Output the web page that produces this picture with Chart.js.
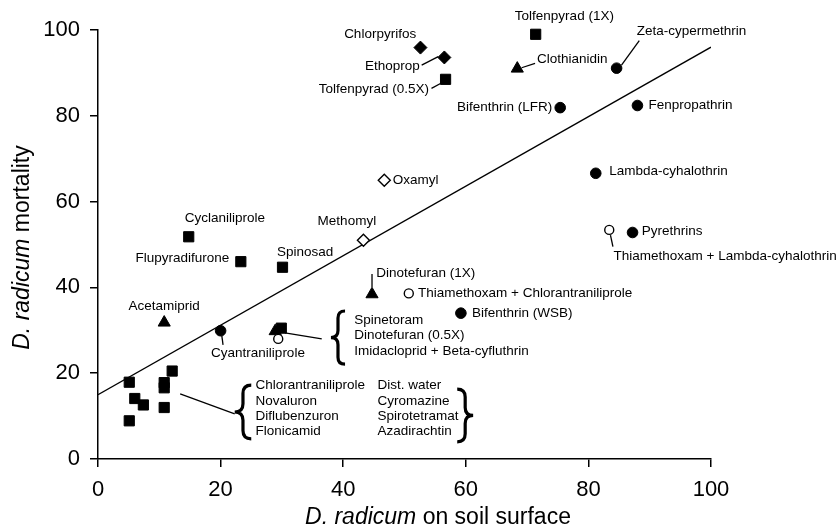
<!DOCTYPE html>
<html>
<head>
<meta charset="utf-8">
<script src="https://cdn.jsdelivr.net/npm/chart.js@4.4.1/dist/chart.umd.min.js"></script>
<style>
  html, body { margin: 0; padding: 0; background: #fff; }
  #wrap { width: 838px; height: 531px; }
</style>
</head>
<body>
<div id="wrap"><canvas id="myChart" width="838" height="531"></canvas></div>
<script>
// values (x = D. radicum on soil surface, y = mortality)
var squareNames = ['Tolfenpyrad (1X)', 'Tolfenpyrad (0.5X)', 'Cyclaniliprole', 'Flupyradifurone', 'Spinosad', 'Spinetoram',
  'Chlorantraniliprole', 'Novaluron', 'Diflubenzuron', 'Flonicamid', 'Dist. water', 'Cyromazine', 'Spirotetramat', 'Azadirachtin'];
var squareX = [71.4, 56.7, 14.8, 23.3, 30.1, 29.9, 5.1, 6.0, 7.4, 5.1, 10.8, 10.8, 10.8, 12.1];
var squareY = [99.0, 88.5, 51.8, 46.0, 44.7, 30.5, 17.9, 14.1, 12.6, 8.9, 17.8, 16.6, 12.0, 20.5];

var circleNames = ['Zeta-cypermethrin', 'Bifenthrin (LFR)', 'Fenpropathrin', 'Lambda-cyhalothrin', 'Pyrethrins', 'Bifenthrin (WSB)', 'Cyantraniliprole'];
var circleX = [84.6, 75.4, 88.0, 81.2, 87.2, 59.2, 20.0];
var circleY = [91.1, 81.9, 82.4, 66.6, 52.8, 34.0, 29.9];

var openCircleNames = ['Thiamethoxam + Lambda-cyhalothrin', 'Thiamethoxam + Chlorantraniliprole', 'Imidacloprid + Beta-cyfluthrin'];
var openCircleX = [83.4, 50.7, 29.4];
var openCircleY = [53.4, 38.6, 28.0];

var triangleNames = ['Clothianidin', 'Acetamiprid', 'Dinotefuran (1X)', 'Dinotefuran (0.5X)'];
var triangleX = [68.4, 10.8, 44.7, 28.9];
var triangleY = [91.0, 31.8, 38.4, 29.8];

var diamondNames = ['Chlorpyrifos', 'Ethoprop'];
var diamondX = [52.6, 56.5];
var diamondY = [95.9, 93.6];

var openDiamondNames = ['Oxamyl', 'Methomyl'];
var openDiamondX = [46.7, 43.3];
var openDiamondY = [65.0, 51.0];

// fitted line, end points
var fitX = [0, 100];
var fitY = [15.0, 96.0];

var ticks = [0, 20, 40, 60, 80, 100];

function pts(xs, ys) {
  return xs.map(function (x, i) { return { x: x, y: ys[i] }; });
}

// annotation text: [text, x, y, align]  (data units)
var notes = [
  ['Chlorpyrifos', 51.9, 99.0, 'right'],
  ['Ethoprop', 52.5, 91.6, 'right'],
  ['Tolfenpyrad (0.5X)', 54.0, 86.2, 'right'],
  ['Tolfenpyrad (1X)', 68.0, 103.1, 'left'],
  ['Clothianidin', 71.6, 93.2, 'left'],
  ['Zeta-cypermethrin', 87.9, 99.6, 'left'],
  ['Bifenthrin (LFR)', 74.1, 82.1, 'right'],
  ['Fenpropathrin', 89.8, 82.5, 'left'],
  ['Lambda-cyhalothrin', 83.4, 67.0, 'left'],
  ['Pyrethrins', 88.7, 53.0, 'left'],
  ['Thiamethoxam + Lambda-cyhalothrin', 84.1, 47.2, 'left'],
  ['Oxamyl', 48.1, 65.0, 'left'],
  ['Methomyl', 40.6, 55.3, 'center'],
  ['Cyclaniliprole', 20.7, 56.1, 'center'],
  ['Flupyradifurone', 21.4, 46.8, 'right'],
  ['Spinosad', 33.8, 48.2, 'center'],
  ['Dinotefuran (1X)', 45.4, 43.4, 'left'],
  ['Thiamethoxam + Chlorantraniliprole', 52.2, 38.7, 'left'],
  ['Acetamiprid', 10.8, 35.7, 'center'],
  ['Bifenthrin (WSB)', 61.0, 34.0, 'left'],
  ['Cyantraniliprole', 26.1, 24.6, 'center'],
  ['Spinetoram', 41.8, 32.4, 'left'],
  ['Dinotefuran (0.5X)', 41.8, 28.8, 'left'],
  ['Imidacloprid + Beta-cyfluthrin', 41.8, 25.2, 'left'],
  ['Chlorantraniliprole', 25.7, 17.1, 'left'],
  ['Novaluron', 25.7, 13.5, 'left'],
  ['Diflubenzuron', 25.7, 10.0, 'left'],
  ['Flonicamid', 25.7, 6.4, 'left'],
  ['Dist. water', 45.6, 17.1, 'left'],
  ['Cyromazine', 45.6, 13.5, 'left'],
  ['Spirotetramat', 45.6, 10.0, 'left'],
  ['Azadirachtin', 45.6, 6.4, 'left']
];

// leader lines [x1, y1, x2, y2]
var leaders = [
  [52.8, 91.8, 55.5, 93.8],
  [54.4, 86.4, 56.1, 87.7],
  [69.1, 91.2, 71.3, 92.2],
  [85.4, 91.8, 88.3, 97.5],
  [83.6, 52.2, 84.0, 49.5],
  [44.7, 40.1, 44.7, 43.1],
  [20.2, 28.7, 20.4, 26.6],
  [30.5, 29.4, 36.5, 28.0],
  [13.4, 15.2, 22.3, 10.5]
];

// braces [tipX, armX, top, bottom]
var braces = [
  [38.0, 40.3, 34.5, 22.1],
  [22.3, 25.0, 17.2, 4.7],
  [61.2, 58.6, 16.3, 4.0]
];

var FONT = '"Liberation Sans", Arial, sans-serif';

function drawBrace(ctx, xt, xa, yt, yb) {
  var xm = (xt + xa) / 2;
  var ym = (yt + yb) / 2;
  var r = Math.abs(xa - xt) / 2;
  ctx.beginPath();
  ctx.moveTo(xa, yt);
  ctx.quadraticCurveTo(xm, yt, xm, yt + r);
  ctx.lineTo(xm, ym - r);
  ctx.quadraticCurveTo(xm, ym, xt, ym);
  ctx.quadraticCurveTo(xm, ym, xm, ym + r);
  ctx.lineTo(xm, yb - r);
  ctx.quadraticCurveTo(xm, yb, xa, yb);
  ctx.stroke();
}

var notesPlugin = {
  id: 'notes',
  afterDatasetsDraw: function (chart) {
    var ctx = chart.ctx;
    var xs = chart.scales.x, ys = chart.scales.y;
    ctx.save();
    ctx.fillStyle = '#000';
    ctx.strokeStyle = '#000';
    ctx.lineWidth = 1.3;
    leaders.forEach(function (l) {
      ctx.beginPath();
      ctx.moveTo(xs.getPixelForValue(l[0]), ys.getPixelForValue(l[1]));
      ctx.lineTo(xs.getPixelForValue(l[2]), ys.getPixelForValue(l[3]));
      ctx.stroke();
    });
    ctx.lineWidth = 3.2;
    braces.forEach(function (b) {
      drawBrace(ctx, xs.getPixelForValue(b[0]), xs.getPixelForValue(b[1]),
        ys.getPixelForValue(b[2]), ys.getPixelForValue(b[3]));
    });
    ctx.font = '13.5px ' + FONT;
    ctx.textBaseline = 'middle';
    notes.forEach(function (n) {
      ctx.textAlign = n[3];
      ctx.fillText(n[0], xs.getPixelForValue(n[1]), ys.getPixelForValue(n[2]));
    });

    // axis titles, italic species name
    var a = chart.chartArea;
    ctx.font = 'italic 23px ' + FONT;
    var it = 'D. radicum';
    var w1 = ctx.measureText(it + ' ').width;
    ctx.font = '23px ' + FONT;
    var rest1 = 'on soil surface';
    var w2 = ctx.measureText(rest1).width;
    var cx = 438;
    var x0 = cx - (w1 + w2) / 2;
    ctx.textAlign = 'left';
    ctx.font = 'italic 23px ' + FONT;
    ctx.fillText(it, x0, 518);
    ctx.font = '23px ' + FONT;
    ctx.fillText(rest1, x0 + w1, 518);

    ctx.translate(23, (a.top + a.bottom) / 2 + 3);
    ctx.rotate(-Math.PI / 2);
    var rest2 = 'mortality';
    ctx.font = 'italic 23px ' + FONT;
    var w3 = ctx.measureText(it + ' ').width;
    ctx.font = '23px ' + FONT;
    var w4 = ctx.measureText(rest2).width;
    var y0 = -(w3 + w4) / 2;
    ctx.font = 'italic 23px ' + FONT;
    ctx.fillText(it, y0, 0);
    ctx.font = '23px ' + FONT;
    ctx.fillText(rest2, y0 + w3, 0);
    ctx.restore();
  }
};

function axis() {
  return {
    type: 'linear',
    min: 0,
    max: 100,
    afterBuildTicks: function (s) { s.ticks = ticks.map(function (v) { return { value: v }; }); },
    grid: { display: true, drawOnChartArea: false, drawTicks: true, tickLength: 8, color: '#000', lineWidth: 1.5 },
    border: { display: true, color: '#000', width: 1.5 },
    ticks: { color: '#000', font: { size: 22, family: FONT }, padding: 10, maxRotation: 0 }
  };
}

var xAxis = axis();
xAxis.afterFit = function (s) { s.height = 72; };
var yAxis = axis();
yAxis.afterFit = function (s) { s.width = 98; };

var ctx = document.getElementById('myChart').getContext('2d');
var chart = new Chart(ctx, {
  type: 'scatter',
  data: {
    datasets: [
      { label: 'open circles', data: pts(openCircleX, openCircleY), pointStyle: 'circle', pointRadius: 4.5,
        backgroundColor: '#fff', borderColor: '#000', borderWidth: 1.4 },
      { label: 'open diamonds', data: pts(openDiamondX, openDiamondY), pointStyle: 'rectRot', pointRadius: 6,
        backgroundColor: '#fff', borderColor: '#000', borderWidth: 1.4 },
      { label: 'squares', data: pts(squareX, squareY), pointStyle: 'rect', pointRadius: 7.2,
        backgroundColor: '#000', borderColor: '#000', borderWidth: 1 },
      { label: 'triangles', data: pts(triangleX, triangleY), pointStyle: 'triangle', pointRadius: 7,
        backgroundColor: '#000', borderColor: '#000', borderWidth: 1 },
      { label: 'circles', data: pts(circleX, circleY), pointStyle: 'circle', pointRadius: 5.3,
        backgroundColor: '#000', borderColor: '#000', borderWidth: 1 },
      { label: 'diamonds', data: pts(diamondX, diamondY), pointStyle: 'rectRot', pointRadius: 6.5,
        backgroundColor: '#000', borderColor: '#000', borderWidth: 1 },
      { label: 'fit', type: 'line', data: pts(fitX, fitY), showLine: true, pointRadius: 0,
        borderColor: '#000', borderWidth: 1.3, fill: false }
    ]
  },
  options: {
    responsive: false,
    animation: false,
    events: [],
    layout: { padding: { top: 30, right: 127, left: 0, bottom: 0 } },
    plugins: { legend: { display: false }, tooltip: { enabled: false } },
    elements: { point: { hoverRadius: 0 } },
    datasets: { scatter: { clip: false } },
    scales: { x: xAxis, y: yAxis }
  },
  plugins: [notesPlugin]
});
</script>
</body>
</html>
